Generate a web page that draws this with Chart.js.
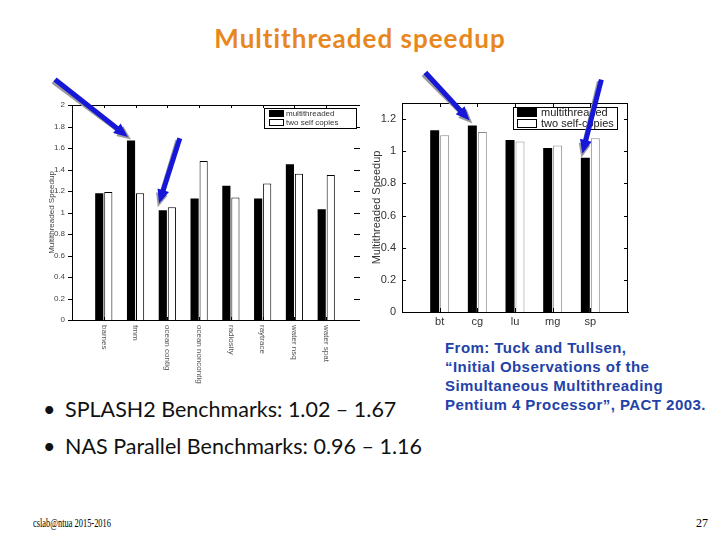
<!DOCTYPE html>
<html><head><meta charset="utf-8">
<script src="https://cdn.jsdelivr.net/npm/chart.js@4.4.0/dist/chart.umd.min.js"></script>
<style>
html,body{margin:0;padding:0;background:#fff;}
#page{position:relative;width:720px;height:540px;overflow:hidden;background:#fff;}
.abs{position:absolute;white-space:nowrap;}
#title{left:0;width:720px;top:23px;text-align:center;font:bold 26px Lato, sans-serif;letter-spacing:1px;color:#E8871E;line-height:30px;}
.bullet{left:43px;font:21.5px Lato,sans-serif;color:#111;line-height:26px;}
.bullet span{display:inline-block;width:22px;}
#cite{left:445px;top:338px;font:bold 15px "Liberation Sans",Arial,sans-serif;letter-spacing:0.45px;color:#2342A8;line-height:19px;}
#foot{left:33px;top:515px;font:12px "Liberation Serif",serif;color:#000;line-height:16px;transform:scaleX(0.7);transform-origin:0 0;}
#pnum{left:696px;top:515px;font:12px "Liberation Serif",serif;color:#000;line-height:16px;}
#c1{position:absolute;left:30px;top:60px;}
#c2{position:absolute;left:360px;top:60px;}
</style></head>
<body>
<div id="page">
  <div id="title" class="abs">Multithreaded speedup</div>
  <canvas id="c1" width="340" height="335"></canvas>
  <canvas id="c2" width="275" height="275"></canvas>
  <div class="abs bullet" style="top:396px"><span>•</span>SPLASH2 Benchmarks: 1.02 – 1.67</div>
  <div class="abs bullet" style="top:433px"><span>•</span>NAS Parallel Benchmarks: 0.96 – 1.16</div>
  <div id="cite" class="abs">From: Tuck and Tullsen,<br>“Initial Observations of the<br>Simultaneous Multithreading<br>Pentium 4 Processor”, PACT 2003.</div>
  <div id="foot" class="abs">cslab@ntua 2015-2016</div>
  <div id="pnum" class="abs">27</div>
</div>
<script>
// ---- data ----
const splashCategories = ['barnes','fmm','ocean contig','ocean noncontig','radiosity','raytrace','water nsq','water spat'];
const splashMultithreaded = [1.18,1.67,1.02,1.13,1.25,1.13,1.45,1.03];
const splashSelfCopies    = [1.19,1.18,1.05,1.48,1.14,1.27,1.36,1.35];
const splashYTicks = [0,0.2,0.4,0.6,0.8,1,1.2,1.4,1.6,1.8,2];

const nasCategories = ['bt','cg','lu','mg','sp'];
const nasMultithreaded = [1.13,1.16,1.07,1.02,0.96];
const nasSelfCopies    = [1.10,1.12,1.06,1.035,1.08];
const nasYTicks = [0,0.2,0.4,0.6,0.8,1,1.2];

const seriesNames1 = ['multithreaded','two self copies'];
const seriesNames2 = ['multithreaded','two self-copies'];

// ---- helpers ----
function pad(arr){ return [null].concat(arr).concat([null]); }
function padLabels(arr){ return [''].concat(arr).concat(['']); }

function drawArrow(ctx,x0,y0,x1,y1,color,w,hl,hw){
  const a=Math.atan2(y1-y0,x1-x0), c=Math.cos(a), s=Math.sin(a);
  const bx=x1-hl*c, by=y1-hl*s;
  ctx.save();
  ctx.strokeStyle=color; ctx.fillStyle=color; ctx.lineWidth=w; ctx.lineCap='butt';
  ctx.beginPath(); ctx.moveTo(x0,y0); ctx.lineTo(bx+2*c,by+2*s); ctx.stroke();
  ctx.beginPath(); ctx.moveTo(x1,y1);
  ctx.lineTo(bx - hw/2*s, by + hw/2*c);
  ctx.lineTo(bx + hw/2*s, by - hw/2*c);
  ctx.closePath(); ctx.fill();
  ctx.restore();
}
function shadowArrow(ctx,tip,dx,dy){
  const x0=tip.x+dx, y0=tip.y+dy;
  const a=Math.atan2(tip.y-y0,tip.x-x0);
  drawArrow(ctx,x0-2,y0+2,tip.x,tip.y,'#9c9c9c',5,14,12);
  drawArrow(ctx,x0,y0,tip.x-4*Math.cos(a),tip.y-4*Math.sin(a),'#1717D8',5,14,12);
}

function makeDecor(cfg){
  return {
    id:'decor'+cfg.key,
    afterDraw(chart){
      const ctx=chart.ctx, ca=chart.chartArea;
      const xs=chart.scales.x, ys=chart.scales.y;
      ctx.save();
      ctx.strokeStyle='#000'; ctx.lineWidth=1;
      ctx.beginPath(); ctx.moveTo(ca.left,ca.top+0.5); ctx.lineTo(ca.right,ca.top+0.5); ctx.stroke();
      if(cfg.rightLine){ ctx.beginPath(); ctx.moveTo(ca.right-0.5,ca.top); ctx.lineTo(ca.right-0.5,ca.bottom); ctx.stroke(); }
      ys.ticks.forEach(t=>{
        const y=Math.round(ys.getPixelForValue(t.value))+0.5;
        ctx.beginPath();
        if(cfg.leftOut){ ctx.moveTo(ca.left-cfg.tl-1,y); ctx.lineTo(ca.left,y); }
        else { ctx.moveTo(ca.left,y); ctx.lineTo(ca.left+cfg.tl,y); }
        ctx.stroke();
        ctx.beginPath(); ctx.moveTo(ca.right-cfg.tl-(cfg.rightLine?0:1),y); ctx.lineTo(ca.right+(cfg.rightLine?0:2),y); ctx.stroke();
      });
      cfg.cats.forEach((c,i)=>{
        const x=Math.round(xs.getPixelForValue(i+1))+0.5;
        ctx.beginPath(); ctx.moveTo(x,ca.top); ctx.lineTo(x,ca.top+cfg.tl); ctx.stroke();
        ctx.beginPath(); ctx.moveTo(x,ca.bottom); ctx.lineTo(x,ca.bottom-cfg.tl); ctx.stroke();
      });
      ctx.fillStyle=cfg.labelColor; ctx.font=cfg.labelFont;
      cfg.cats.forEach((c,i)=>{
        const x=xs.getPixelForValue(i+1);
        if(cfg.rotate){
          ctx.save(); ctx.translate(x,ca.bottom+5); ctx.rotate(Math.PI/2);
          ctx.textAlign='left'; ctx.textBaseline='middle'; ctx.fillText(c,0,0); ctx.restore();
        } else {
          ctx.textAlign='center'; ctx.textBaseline='top'; ctx.fillText(c,x,ca.bottom+4);
        }
      });
      const L=cfg.legend;
      const lx=ca.right-L.right-L.w, ly=ca.top+L.top;
      ctx.fillStyle='#fff'; ctx.fillRect(lx,ly,L.w,L.h);
      ctx.strokeStyle='#000'; ctx.strokeRect(lx+0.5,ly+0.5,L.w,L.h);
      ctx.font=L.font; ctx.textAlign='left'; ctx.textBaseline='middle';
      chart.data.datasets.forEach((ds,i)=>{
        const ry=ly+L.rowTop+i*L.rowH;
        ctx.fillStyle=ds.backgroundColor; ctx.fillRect(lx+L.sx,ry,L.sw,L.sh);
        if(i===1){ ctx.strokeStyle='#000'; ctx.strokeRect(lx+L.sx+0.5,ry+0.5,L.sw-1,L.sh-1); }
        ctx.fillStyle=L.color; ctx.fillText(ds.label,lx+L.tx,ry+L.sh/2+0.5);
      });
      const meta=chart.getDatasetMeta(0);
      cfg.arrows.forEach(a=>{
        const el=meta.data[a.idx+1];
        shadowArrow(ctx,{x:el.x+a.ox,y:el.y+a.oy},a.dx,a.dy);
      });
      ctx.restore();
    }
  };
}

function makeChart(id,cats,s1,s2,names,opt){
  return new Chart(document.getElementById(id),{
    type:'bar',
    data:{
      labels:padLabels(cats),
      datasets:[
        {label:names[0],data:pad(s1),backgroundColor:'#000',borderWidth:0,
         categoryPercentage:opt.cp,barPercentage:opt.bp},
        {label:names[1],data:pad(s2),backgroundColor:'#fff',borderColor:opt.whiteBorder,borderWidth:1,
         categoryPercentage:opt.cp,barPercentage:opt.bp}
      ]
    },
    options:{
      responsive:false,animation:false,devicePixelRatio:1,
      layout:{padding:{top:opt.padTop,right:opt.padRight,left:0,bottom:0}},
      plugins:{legend:{display:false},tooltip:{enabled:false}},
      scales:{
        x:{type:'category',offset:false,grid:{display:false,drawTicks:false},ticks:{display:false},
           border:{display:true,color:'#000',width:1},
           afterFit(s){s.height=opt.xh;}},
        y:{min:0,max:opt.ymax,grid:{display:false,drawTicks:false},
           border:{display:true,color:'#000',width:1},
           afterBuildTicks(s){s.ticks=opt.yticks.map(v=>({value:v}));},
           ticks:{font:{family:'"Liberation Sans", Arial, sans-serif',size:opt.tickSize},color:opt.tickColor,padding:opt.tickPad,
                  callback:v=>String(Math.round(v*10)/10)},
           title:{display:true,text:'Multithreaded Speedup',font:{family:'"Liberation Sans", Arial, sans-serif',size:opt.titleSize},
                  color:opt.tickColor,padding:{top:opt.titlePad,bottom:0}},
           afterFit(s){s.width=opt.yw;}}
      }
    },
    plugins:[makeDecor(opt.decor)]
  });
}

makeChart('c1',splashCategories,splashMultithreaded,splashSelfCopies,seriesNames1,{
  cp:0.57,bp:0.9,whiteBorder:'#000',padTop:45,padRight:12,xh:75,ymax:2,yticks:splashYTicks,
  tickSize:8,tickColor:'#444',tickPad:7,titleSize:8,titlePad:17,yw:42,
  decor:{key:1,rightLine:false,leftOut:true,tl:3,cats:splashCategories,rotate:true,labelColor:'#555',
    labelFont:'8px "Liberation Sans", Arial, sans-serif',
    legend:{right:2,top:3,w:92,h:20,font:'8px "Liberation Sans", Arial, sans-serif',color:'#333',
      sx:5,sw:15,sh:7,rowTop:2,rowH:9,tx:22},
    arrows:[{idx:1,ox:0,oy:-1,dx:-76,dy:-60},{idx:2,ox:-5,oy:-3,dx:22,dy:-69}]}
});

makeChart('c2',nasCategories,nasMultithreaded,nasSelfCopies,seriesNames2,{
  cp:0.53,bp:0.9,whiteBorder:'#8a8a8a',padTop:43,padRight:7,xh:23,ymax:1.3,yticks:nasYTicks,
  tickSize:11,tickColor:'#333',tickPad:6,titleSize:11,titlePad:10,yw:42,
  decor:{key:2,rightLine:true,leftOut:false,tl:4,cats:nasCategories,rotate:false,labelColor:'#333',
    labelFont:'11px "Liberation Sans", Arial, sans-serif',
    legend:{right:11,top:4,w:104,h:22,font:'11px "Liberation Sans", Arial, sans-serif',color:'#222',
      sx:4,sw:20,sh:9,rowTop:1,rowH:11,tx:28},
    arrows:[{idx:1,ox:0,oy:-2,dx:-47,dy:-51},{idx:4,ox:-4,oy:0,dx:20,dy:-78}]}
});
</script>
</body></html>
